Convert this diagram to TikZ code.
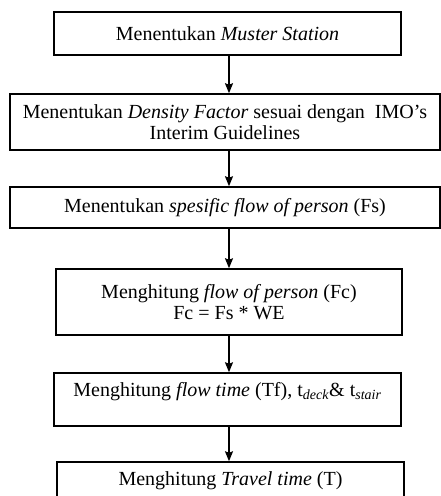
\documentclass[tikz,border=0pt]{standalone}
\usepackage{fontspec}
\setmainfont{Liberation Serif}
\usetikzlibrary{arrows.meta,positioning}

\tikzset{
    stepbox/.style={draw, line width=1.5pt, inner sep=2pt, align=center,
        font=\fontsize{20}{21}\selectfont},
    flow/.style={-{Stealth[length=10pt,width=8pt,inset=1.5pt]}, line width=1.5pt},
}

\begin{document}
\begin{tikzpicture}[x=1pt,y=-1pt]
\useasboundingbox (0,0) rectangle (440,496);
\node[stepbox, minimum width=347pt, minimum height=43pt] (s1) at (227.5,33.5)
    {Menentukan \textit{Muster Station}};
\node[stepbox, minimum width=430pt, minimum height=56pt] (s2) at (225,122)
    {Menentukan \textit{Density Factor} sesuai dengan~ IMO's\\ Interim Guidelines};
\node[stepbox, minimum width=430pt, minimum height=41pt] (s3) at (225,207.5)
    {Menentukan \textit{spesific flow of person} (Fs)};
\node[stepbox, minimum width=346pt, minimum height=66pt] (s4) at (229,302)
    {Menghitung \textit{flow of person} (Fc)\\ Fc = Fs * WE};
\node[stepbox, minimum width=347pt, minimum height=53pt, text depth=20pt] (s5) at (227.5,399.5)
    {Menghitung \textit{flow time} (Tf), t\textsubscript{\textit{deck}}\& t\textsubscript{\textit{stair}}};
\node[stepbox, minimum width=347pt, minimum height=53pt, text depth=19pt] (s6) at (230.5,488.5)
    {Menghitung \textit{Travel time} (T)};
\path[flow] (s1.south -| 229,0) edge (s2.north -| 229,0);
\path[flow] (s2.south -| 229,0) edge (s3.north -| 229,0);
\path[flow] (s3.south -| 229,0) edge (s4.north -| 229,0);
\path[flow] (s4.south -| 229,0) edge (s5.north -| 229,0);
\path[flow] (s5.south -| 229,0) edge (s6.north -| 229,0);
\end{tikzpicture}
\end{document}
